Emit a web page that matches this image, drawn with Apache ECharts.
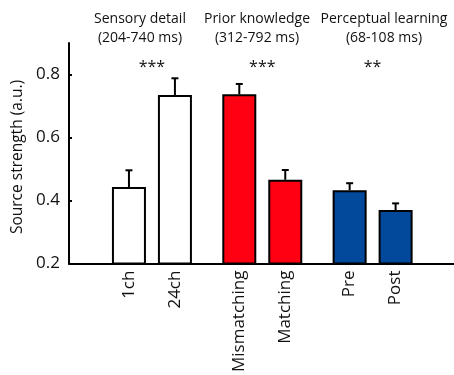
<!DOCTYPE html>
<html>
<head>
<meta charset="utf-8">
<script src="https://cdn.jsdelivr.net/npm/echarts@6/dist/echarts.min.js"></script>
<style>
html,body{margin:0;padding:0;background:#fff;}
#chart{width:454px;height:375px;}
</style>
</head>
<body>
<div id="chart"></div>
<script>
// ---- data ----
const categories = ['1ch', '24ch', 'Mismatching', 'Matching', 'Pre', 'Post'];
const groupOf = [0, 0, 1, 1, 2, 2];
const values = [0.443, 0.735, 0.737, 0.466, 0.433, 0.370];
const errors = [0.053, 0.053, 0.033, 0.031, 0.022, 0.021];
const groupTitles = ['Sensory detail', 'Prior knowledge', 'Perceptual learning'];
const groupWindows = ['(204-740 ms)', '(312-792 ms)', '(68-108 ms)'];
const significance = ['***', '***', '**'];
const yTicks = [0.2, 0.4, 0.6, 0.8];

// ---- layout ----
const GROUP_STEP = 2.4;
const xPos = categories.map((c, i) => groupOf[i] * GROUP_STEP + (i % 2));
const fillColors = ['#ffffff', '#ffffff', '#ff0013', '#ff0013', '#02489b', '#02489b'];
const FONT = '"Open Sans", "Noto Sans", sans-serif';
const TXT = '#111';

const barData = values.map((v, i) => ({
  value: [xPos[i], v],
  itemStyle: { color: fillColors[i] }
}));
const errData = values.map((v, i) => [xPos[i], v, v + errors[i]]);
const starData = significance.map((s, g) => [g * GROUP_STEP + 0.5, 0.822, s]);

const chart = echarts.init(document.getElementById('chart'), null, { renderer: 'canvas' });

const titleCenters = [140, 257, 384];
const graphics = [];
groupTitles.forEach((t, g) => {
  graphics.push({
    type: 'text', x: titleCenters[g], y: 19,
    style: { text: t, font: '14px ' + FONT, fill: TXT, textAlign: 'center', textVerticalAlign: 'middle' }
  });
  graphics.push({
    type: 'text', x: titleCenters[g], y: 38,
    style: { text: groupWindows[g], font: '14px ' + FONT, fill: TXT, textAlign: 'center', textVerticalAlign: 'middle' }
  });
});
graphics.push({
  type: 'text', x: 18, y: 157, rotation: Math.PI / 2,
  style: { text: 'Source strength (a.u.)', font: '15.5px ' + FONT, fill: TXT, textAlign: 'center', textVerticalAlign: 'middle' }
});

chart.setOption({
  animation: false,
  backgroundColor: '#ffffff',
  grid: { left: 69, right: 0, top: 43, bottom: 108, containLabel: false },
  graphic: graphics,
  xAxis: {
    type: 'value',
    min: -1.304,
    max: 7.07,
    splitLine: { show: false },
    axisLine: { show: true, onZero: false, lineStyle: { color: '#000', width: 2 } },
    axisTick: { show: false },
    axisLabel: {
      customValues: xPos,
      rotate: 90,
      margin: 7,
      fontSize: 17,
      fontFamily: FONT,
      color: TXT,
      formatter: function (val) {
        for (let i = 0; i < xPos.length; i++) {
          if (Math.abs(xPos[i] - val) < 1e-6) return categories[i];
        }
        return '';
      }
    }
  },
  yAxis: {
    type: 'value',
    min: 0.2,
    max: 0.9,
    interval: 0.2,
    splitLine: { show: false },
    axisLine: { show: true, onZero: false, lineStyle: { color: '#000', width: 2 } },
    axisTick: { show: true, inside: true, length: 3, customValues: yTicks, lineStyle: { color: '#000', width: 2 } },
    axisLabel: {
      customValues: yTicks,
      margin: 9,
      fontSize: 17,
      fontFamily: FONT,
      color: TXT,
      formatter: v => v.toFixed(1)
    }
  },
  series: [
    {
      type: 'bar',
      data: barData,
      barWidth: 34,
      clip: true,
      itemStyle: { borderColor: '#000', borderWidth: 2 }
    },
    {
      type: 'custom',
      data: errData,
      z: 3,
      renderItem: function (params, api) {
        const base = api.coord([api.value(0), api.value(1)]);
        const top = api.coord([api.value(0), api.value(2)]);
        return {
          type: 'group',
          children: [
            { type: 'line', shape: { x1: base[0], y1: base[1], x2: top[0], y2: top[1] }, style: { stroke: '#000', lineWidth: 2 } },
            { type: 'line', shape: { x1: top[0] - 3.5, y1: top[1], x2: top[0] + 3.5, y2: top[1] }, style: { stroke: '#000', lineWidth: 2 } }
          ]
        };
      }
    },
    {
      type: 'custom',
      data: starData,
      z: 4,
      renderItem: function (params, api) {
        const p = api.coord([api.value(0), api.value(1)]);
        return {
          type: 'text', x: p[0], y: p[1],
          style: { text: significance[params.dataIndex], font: '16px ' + FONT, fill: TXT, textAlign: 'center', textVerticalAlign: 'middle' }
        };
      }
    }
  ]
});
</script>
</body>
</html>
